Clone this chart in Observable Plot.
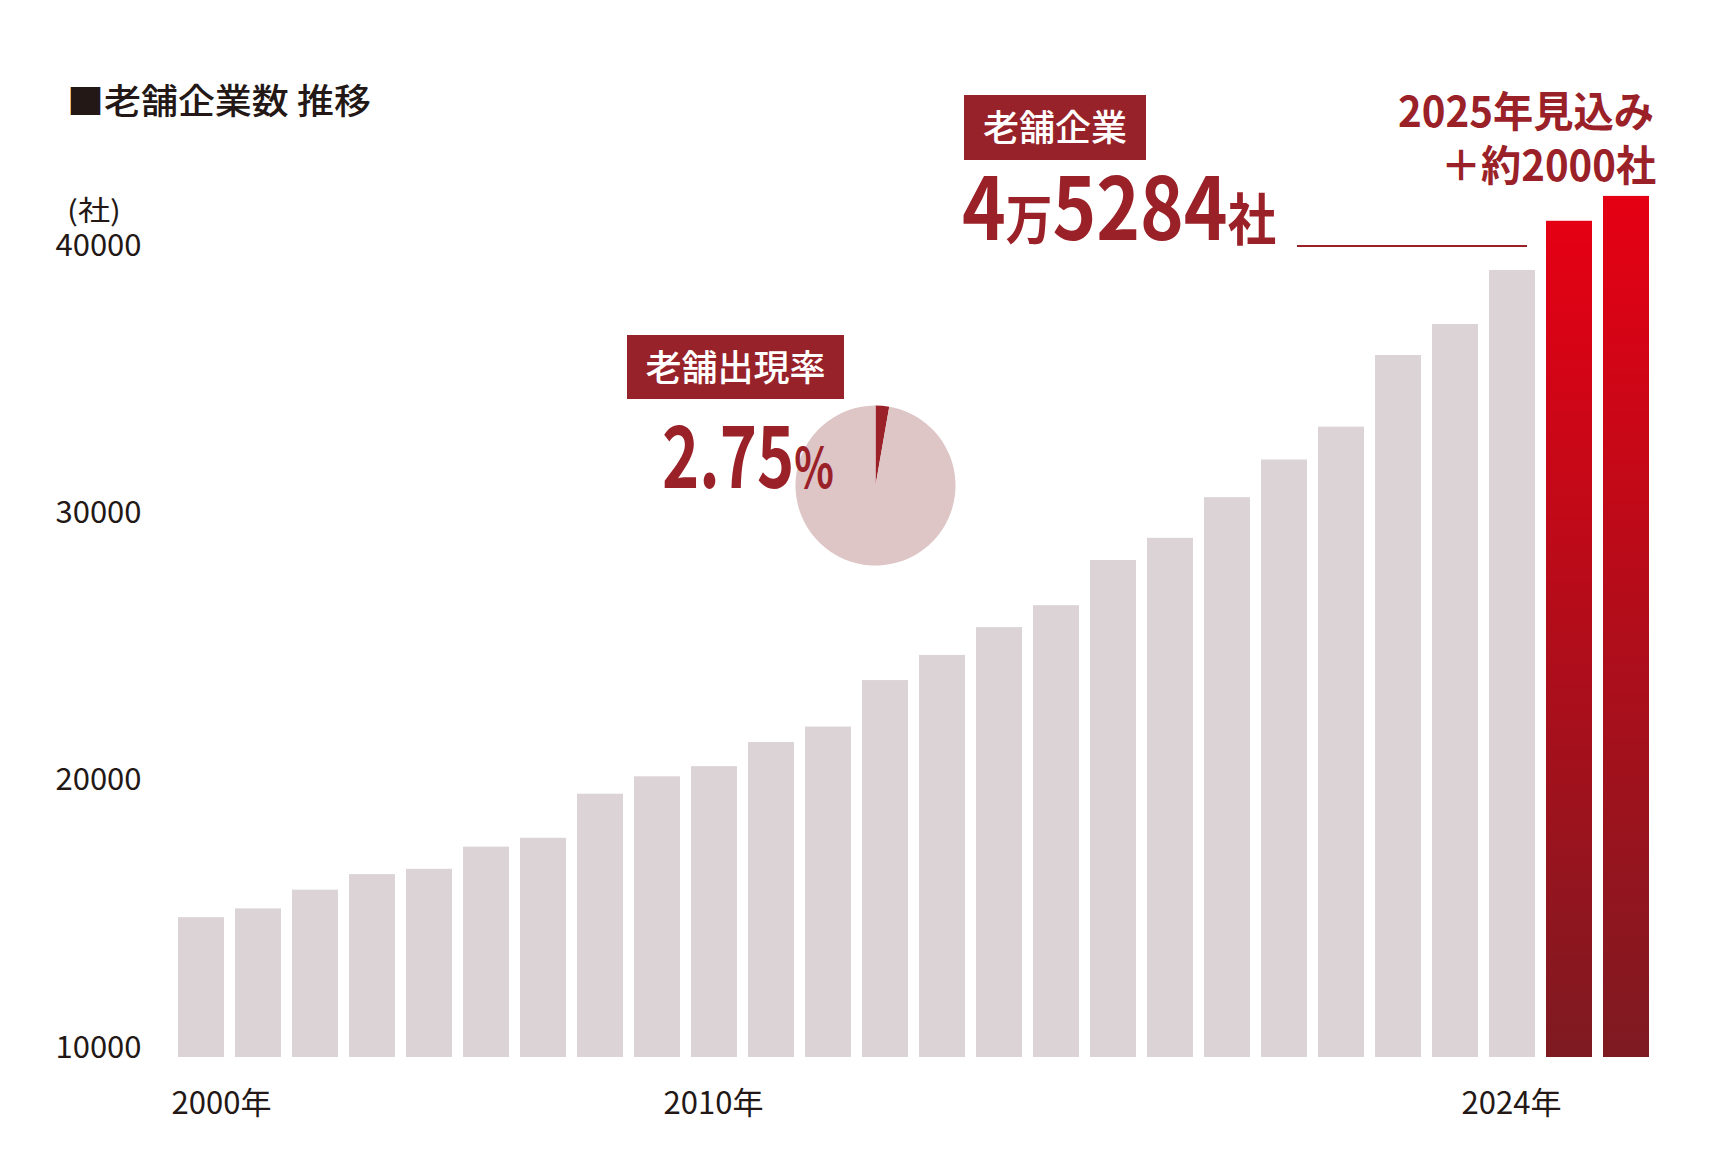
<!DOCTYPE html>
<html>
<head>
<meta charset="utf-8">
<script src="https://cdn.jsdelivr.net/npm/d3@7"></script>
<script src="https://cdn.jsdelivr.net/npm/@observablehq/plot@0.6"></script>
<style>
  html, body { margin: 0; padding: 0; background: #fff; }
  #chart svg { display: block; }
</style>
</head>
<body>
<div id="chart"></div>
<script>
// ---- data ----
const years = [2000, 2001, 2002, 2003, 2004, 2005, 2006, 2007, 2008, 2009,
               2010, 2011, 2012, 2013, 2014, 2015, 2016, 2017, 2018, 2019,
               2020, 2021, 2022, 2023, 2024, 2025];
const counts = [15230, 15560, 16260, 16840, 17040, 17870, 18200, 19850, 20500, 20880,
                21780, 22360, 24100, 25040, 26080, 26900, 28590, 29420, 30940, 32350,
                33580, 36260, 37420, 39440, 41280, 42210];
const highlightYears = [2024, 2025];
const baseline = 10000;
const yTicks = [10000, 20000, 30000, 40000];
const xTickYears = [2000, 2010, 2024];
const xTickLabels = ["2000年", "2010年", "2024年"];
const pieShares = [2.75, 97.25];

const table = years.map((year, i) => ({year, count: counts[i], highlight: highlightYears.includes(year)}));
const xTicks = xTickYears.map((year, i) => ({year, label: xTickLabels[i]}));

// ---- styles ----
const INK = "#231815";
const RED = "#9b2128";
const BOX = "#98222a";
const GREY = "#dbd3d5";
const PIE_BG = "#dec5c6";
const FONT = "'Noto Sans CJK JP', 'Noto Sans', sans-serif";

function gradientDefs() {
  const defs = d3.create("svg:defs");
  const lg = defs.append("linearGradient").attr("id", "redGrad")
    .attr("x1", 0).attr("y1", 0).attr("x2", 0).attr("y2", 1);
  lg.append("stop").attr("offset", "0%").attr("stop-color", "#e50013");
  lg.append("stop").attr("offset", "100%").attr("stop-color", "#7e1a21");
  return defs.node();
}

function annotations() {
  const g = d3.create("svg:g").attr("font-family", FONT).attr("text-anchor", "start");
  const txt = (x, y, s, size, opts = {}) => {
    const t = g.append("text").attr("x", x).attr("y", y).attr("font-size", size)
      .attr("fill", opts.fill || INK).attr("font-weight", opts.weight || 400)
      .attr("text-anchor", opts.anchor || "start").text(s);
    if (opts.len) t.attr("textLength", opts.len).attr("lengthAdjust", "spacingAndGlyphs");
    return t;
  };
  // mixed-size text in one element
  const mixed = (x, y, parts, len) => {
    const t = g.append("text").attr("x", x).attr("y", y).attr("fill", RED).attr("font-weight", 700)
      .attr("textLength", len).attr("lengthAdjust", "spacingAndGlyphs");
    parts.forEach(([s, size]) => t.append("tspan").attr("font-size", size).text(s));
    return t;
  };
  // title + unit
  txt(67, 114, "■老舗企業数 推移", 35, {weight: 500, len: 304});
  txt(67, 221, "(社)", 28, {len: 54});

  // pie (老舗出現率)
  const pie = d3.pie().sort(null).value(d => d)(pieShares);
  const arc = d3.arc().innerRadius(0).outerRadius(80);
  const pg = g.append("g").attr("transform", "translate(875.5,485.5)");
  pg.selectAll("path").data(pie).join("path")
    .attr("d", arc).attr("fill", (d, i) => i === 0 ? RED : PIE_BG);

  g.append("rect").attr("x", 627).attr("y", 335).attr("width", 217).attr("height", 64).attr("fill", BOX);
  txt(735.5, 381, "老舗出現率", 36, {fill: "#fff", weight: 500, anchor: "middle"});
  mixed(662, 488, [["2.75", 86], ["%", 56]], 172);

  // total (老舗企業)
  g.append("rect").attr("x", 964).attr("y", 95).attr("width", 182).attr("height", 65).attr("fill", BOX);
  txt(1055, 141, "老舗企業", 36, {fill: "#fff", weight: 500, anchor: "middle"});
  mixed(962, 240, [["4", 86], ["万", 54], ["5284", 86], ["社", 56]], 314);
  g.append("line").attr("x1", 1297).attr("x2", 1527).attr("y1", 246).attr("y2", 246)
    .attr("stroke", RED).attr("stroke-width", 2);

  // forecast
  txt(1398, 127, "2025年見込み", 42, {fill: RED, weight: 700, len: 256});
  txt(1441, 181, "＋約2000社", 42, {fill: RED, weight: 700, len: 215});
  return g.node();
}

const chart = Plot.plot({
  width: 1720,
  height: 1162,
  marginTop: 255,
  marginBottom: 105,
  marginLeft: 178,
  marginRight: 71,
  style: {fontFamily: FONT, fontSize: "31px", color: INK, background: "#fff"},
  x: {type: "band", domain: years, paddingInner: 0.193, paddingOuter: 0, axis: null},
  y: {domain: [baseline, 40000], label: null},
  marks: [
    gradientDefs,
    Plot.barY(table.filter(d => !d.highlight), {x: "year", y1: baseline, y2: "count", fill: GREY}),
    Plot.barY(table.filter(d => d.highlight), {x: "year", y1: baseline, y2: "count", fill: "url(#redGrad)"}),
    Plot.axisY(yTicks, {tickSize: 0, tickPadding: 0, textAnchor: "start", dx: -123,
                        lineAnchor: "bottom", tickFormat: d3.format("d"), fontSize: 31, label: null}),
    Plot.text(xTicks.slice(0, 1), {x: "year", text: "label", frameAnchor: "bottom", lineAnchor: "bottom",
                                   dy: 56, dx: 20, fontSize: 31, fill: INK}),
    Plot.text(xTicks.slice(1), {x: "year", text: "label", frameAnchor: "bottom", lineAnchor: "bottom",
                                dy: 56, dx: -58, fontSize: 31, fill: INK}),
    annotations
  ]
});
document.getElementById("chart").appendChild(chart);
</script>
</body>
</html>
